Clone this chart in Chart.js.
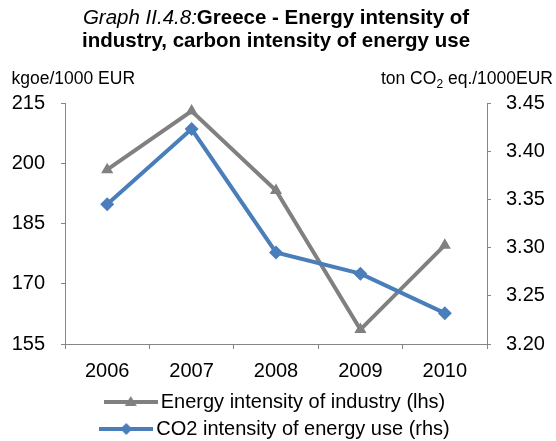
<!DOCTYPE html>
<html>
<head>
<meta charset="utf-8">
<script src="https://cdn.jsdelivr.net/npm/chart.js@4.4.1/dist/chart.umd.min.js"></script>
<style>
  body { margin: 0; background: #fff; }
  #wrap { position: relative; width: 556px; height: 441px; font-family: "Liberation Sans", Arial, sans-serif; color: #000; }
  #chart { position: absolute; left: 0; top: 0; }
  .title { position: absolute; left: 0; top: 4.5px; width: 552px; text-align: center; font-size: 20.5px; line-height: 23.4px; }
  .title i { font-weight: normal; }
  .title b { font-weight: bold; }
  .unit { position: absolute; top: 68px; font-size: 17.5px; line-height: 20px; white-space: nowrap; }
  .unit sub { font-size: 12px; line-height: 0; vertical-align: -4px; }
</style>
</head>
<body>
<div id="wrap">
  <canvas id="chart" width="556" height="441"></canvas>
  <div class="title"><i>Graph II.4.8:</i><b>Greece - Energy intensity of</b><br><b>industry, carbon intensity of energy use</b></div>
  <div class="unit" style="left:11.5px">kgoe/1000 EUR</div>
  <div class="unit" style="right:3px">ton CO<sub>2</sub> eq./1000EUR</div>
</div>
<script>
// 데이터
let years = ["2006", "2007", "2008", "2009", "2010"];
let energyIntensity = [198.4, 213.0, 193.2, 158.6, 179.6];   // kgoe/1000 EUR (왼쪽 축)
let co2Intensity = [3.345, 3.423, 3.295, 3.273, 3.232];      // ton CO2 eq./1000EUR (오른쪽 축)
let leftTicks = [155, 170, 185, 200, 215];
let rightTicks = [3.20, 3.25, 3.30, 3.35, 3.40, 3.45];
let seriesNames = ["Energy intensity of industry (lhs)", "CO2 intensity of energy use (rhs)"];

let grayColor = "#808080";
let blueColor = "#4A7EBB";
let axisColor = "#868686";

// 범례용 선+마커 그림
const makeSample = (color, kind) => {
  let c = document.createElement("canvas");
  c.width = 54;
  c.height = 16;
  let g = c.getContext("2d");
  g.strokeStyle = color;
  g.lineWidth = 4;
  g.beginPath();
  g.moveTo(0, 8);
  g.lineTo(54, 8);
  g.stroke();
  g.fillStyle = color;
  g.beginPath();
  if (kind === "triangle") {
    g.moveTo(27, 2);
    g.lineTo(33, 12);
    g.lineTo(21, 12);
  } else {
    g.moveTo(27, 2);
    g.lineTo(33, 8);
    g.lineTo(27, 14);
    g.lineTo(21, 8);
  }
  g.closePath();
  g.fill();
  return c;
};
let legendSamples = [makeSample(grayColor, "triangle"), makeSample(blueColor, "diamond")];

let tickFont = { family: "'Liberation Sans', Arial, sans-serif", size: 20 };

let myChart = new Chart(document.getElementById("chart"), {
  type: "line",
  data: {
    labels: years,
    datasets: [
      {
        label: seriesNames[0],
        data: energyIntensity,
        yAxisID: "yL",
        borderColor: grayColor,
        backgroundColor: grayColor,
        borderWidth: 4,
        pointStyle: "triangle",
        pointRadius: 7,
        pointBorderWidth: 0,
        tension: 0,
        order: 1
      },
      {
        label: seriesNames[1],
        data: co2Intensity,
        yAxisID: "yR",
        borderColor: blueColor,
        backgroundColor: blueColor,
        borderWidth: 4,
        pointStyle: "rectRot",
        pointRadius: 7,
        pointBorderWidth: 0,
        tension: 0,
        order: 0
      }
    ]
  },
  options: {
    responsive: false,
    animation: false,
    layout: { padding: { top: 103, left: 0, right: 0, bottom: -8 } },
    plugins: {
      tooltip: { enabled: false },
      title: { display: false },
      legend: {
        position: "bottom",
        labels: {
          usePointStyle: true,
          pointStyleWidth: 40,
          padding: 7,
          color: "#000",
          font: tickFont,
          generateLabels: (chart) =>
            chart.data.datasets.map((ds, i) => ({
              text: ds.label,
              pointStyle: legendSamples[i],
              datasetIndex: i,
              hidden: false,
              fontColor: "#000",
              lineWidth: 0
            }))
        }
      }
    },
    scales: {
      x: {
        offset: true,
        grid: { offset: true, drawOnChartArea: false, drawTicks: true, tickLength: 5, color: axisColor },
        border: { color: axisColor, width: 1 },
        ticks: { color: "#000", font: tickFont, padding: 10, maxRotation: 0 },
        afterFit: (s) => { s.height = 41; }
      },
      yL: {
        position: "left",
        min: 155,
        max: 215,
        afterBuildTicks: (s) => { s.ticks = leftTicks.map((v) => ({ value: v })); },
        grid: { drawOnChartArea: false, drawTicks: true, tickLength: 4, color: axisColor },
        border: { color: axisColor, width: 1 },
        ticks: { color: "#000", font: tickFont, padding: 16 },
        afterFit: (s) => { s.width = 65; }
      },
      yR: {
        position: "right",
        min: 3.2,
        max: 3.45,
        afterBuildTicks: (s) => { s.ticks = rightTicks.map((v) => ({ value: v })); },
        grid: { drawOnChartArea: false, drawTicks: true, tickLength: 4, color: axisColor },
        border: { color: axisColor, width: 1 },
        ticks: { color: "#000", font: tickFont, padding: 15, callback: (v) => Number(v).toFixed(2) },
        afterFit: (s) => { s.width = 69; }
      }
    }
  }
});
</script>
</body>
</html>
